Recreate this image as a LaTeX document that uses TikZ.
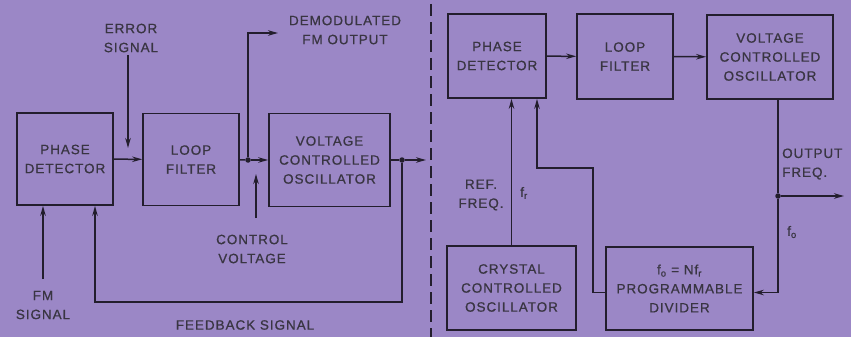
\documentclass[tikz,border=0pt]{standalone}
\usepackage{fontspec}
\setmainfont{Liberation Sans}[LetterSpace=7,FakeBold=0.7]
\usetikzlibrary{arrows.meta,calc}
\definecolor{lilac}{RGB}{155,135,198}
\definecolor{ink}{RGB}{35,30,45}
\tikzset{
  blk/.style ={draw=ink,line width=1.7pt,align=center,inner sep=0pt,
               text=ink!90,font=\fontsize{13.5}{19}\selectfont},
  sig/.style ={draw=ink,line width=1.5pt},
  arr/.style ={sig,-{Stealth[length=10pt,width=5.5pt]}},
  lbl/.style ={align=center,inner sep=0pt,text=ink!90,font=\fontsize{13.5}{19}\selectfont},
  jnc/.style ={circle,fill=ink,inner sep=0pt,minimum size=5.5pt},
}

\begin{document}
\begin{tikzpicture}[x=1pt,y=-1pt]
  \fill[lilac] (0,0) rectangle (851,337);
  \useasboundingbox (0,0) rectangle (851,337);
  % FM demodulator
  \node[blk,minimum width=96pt,minimum height=92pt]  (pdl)  at (65,159)    {PHASE\\DETECTOR};
  \node[blk,minimum width=96pt,minimum height=92pt]  (lfl)  at (191,159.5) {LOOP\\FILTER};
  \node[blk,minimum width=121pt,minimum height=93pt] (vcol) at (329.5,160) {VOLTAGE\\CONTROLLED\\OSCILLATOR};
  \node[jnc] (jl)  at (248,160) {};
  \node[jnc] (jo)  at (402,160) {};
  \coordinate (err)  at (128,55);
  \coordinate (errt) at (128,148);
  \coordinate (dem)  at (278,33);
  \coordinate (cv)   at (256,218);
  \coordinate (cvt)  at (256,174);
  \coordinate (outl) at (426,160);
  \coordinate (fb)   at (95,302);
  \coordinate (fm)   at (43,279);
  \draw[arr] (pdl) -- (lfl);
  \draw[sig] (lfl) -- (jl);
  \draw[arr] (jl) -- (vcol);
  \draw[arr] (jl) |- (dem);
  \draw[arr] (err) -- (errt);
  \draw[arr] (cv) -- (cvt);
  \draw[sig] (vcol) -- (jo);
  \draw[arr] (jo) -- (outl);
  \draw[arr] (jo) |- (fb) -- (fb |- pdl.south);
  \draw[arr] (fm) -- (fm |- pdl.south);
  \node[lbl] (errlbl) at (131,38)  {ERROR\\SIGNAL};
  \node[lbl] (demlbl) at (345,30)  {DEMODULATED\\FM OUTPUT};
  \node[lbl] (cvlbl)  at (252,249) {CONTROL\\VOLTAGE};
  \node[lbl] (fmlbl)  at (43,305)  {FM\\SIGNAL};
  \node[lbl] (fblbl)  at (245,325) {FEEDBACK SIGNAL};
  % divider
  \draw[ink,line width=1.5pt,dash pattern=on 12pt off 6pt] (431,4) -- (431,337);
  % frequency synthesizer
  \node[blk,minimum width=98pt,minimum height=84pt]  (pdr)  at (497,56)    {PHASE\\DETECTOR};
  \node[blk,minimum width=96pt,minimum height=85pt]  (lfr)  at (625,56.5)  {LOOP\\FILTER};
  \node[blk,minimum width=126pt,minimum height=84pt] (vcor) at (770,57)    {VOLTAGE\\CONTROLLED\\OSCILLATOR};
  \node[blk,minimum width=129pt,minimum height=84pt] (xtal) at (511.5,288) {CRYSTAL\\CONTROLLED\\OSCILLATOR};
  \node[blk,minimum width=147pt,minimum height=83pt] (pdiv) at (679.5,288.5)
       {f\textsubscript{o} = Nf\textsubscript{r}\\PROGRAMMABLE\\DIVIDER};
  \node[jnc] (jr) at (778,196) {};
  \coordinate (bend) at (593,168);
  \coordinate (outr) at (844,196);
  \draw[arr] (pdr) -- (lfr);
  \draw[arr] (lfr) -- (vcor);
  \draw[arr] (xtal.north) -- (xtal.north |- pdr.south);
  \draw[arr] ([yshift=-4pt]pdiv.west) -| (bend) -| ([xshift=40pt]pdr.south);
  \draw[sig] (jr |- vcor.south) -- (jr);
  \draw[arr] (jr) -- (outr);
  \draw[arr] (jr) |- ([yshift=-4pt]pdiv.east);
  \node[lbl] (reflbl) at (481,195) {REF.\\FREQ.};
  \node[lbl] (frlbl)  at (524,193) {f\textsubscript{r}};
  \node[lbl,align=left,anchor=west] (oflbl) at (782,164) {OUTPUT\\FREQ.};
  \node[lbl] (folbl)  at (792,232) {f\textsubscript{o}};
\end{tikzpicture}
\end{document}
